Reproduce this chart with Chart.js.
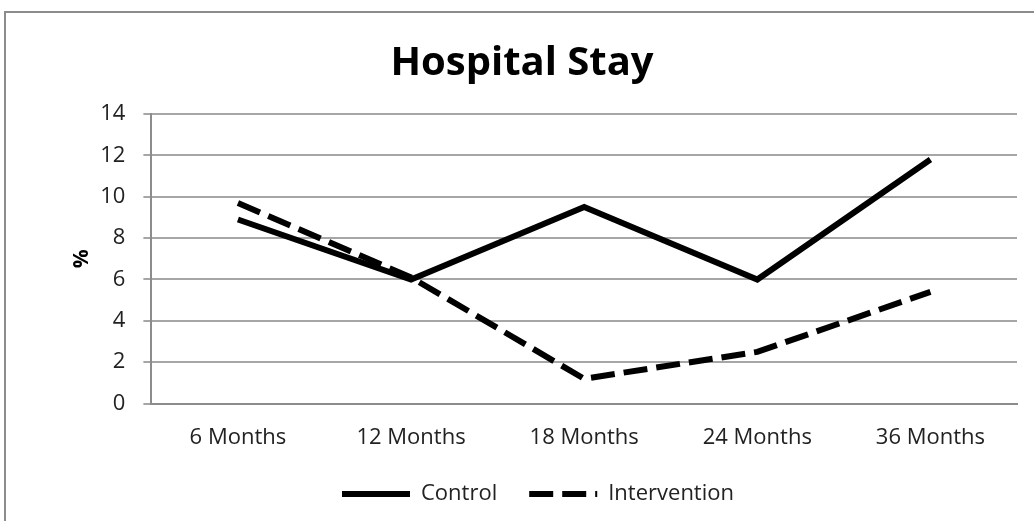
<!DOCTYPE html>
<html>
<head>
<meta charset="utf-8">
<script src="https://cdn.jsdelivr.net/npm/chart.js@4/dist/chart.umd.min.js"></script>
<style>
  html, body { margin: 0; padding: 0; background: #fff; overflow: hidden; }
  #frame { position: absolute; left: 4px; top: 11px; width: 1100px; height: 600px; border: 2px solid #8c8c8c; box-sizing: border-box; }
  #chart { position: absolute; left: 0; top: 0; }
</style>
</head>
<body>
<div id="frame"></div>
<canvas id="chart" width="1034" height="521"></canvas>
<script>
const titleText = "Hospital Stay";
const categories = ["6 Months", "12 Months", "18 Months", "24 Months", "36 Months"];
const controlValues = [8.9, 6.0, 9.5, 6.0, 11.8];
const interventionValues = [9.7, 6.1, 1.2, 2.5, 5.4];
const yTicks = [0, 2, 4, 6, 8, 10, 12, 14];

const font = "Open Sans, Lato, sans-serif";

// title drawn by hand so it can sit centred on the frame rather than the canvas
const titlePlugin = {
    id: "frameTitle",
    afterDraw(chart) {
        const ctx = chart.ctx;
        ctx.save();
        ctx.font = "bold 40px " + font;
        ctx.fillStyle = "#000";
        ctx.textAlign = "center";
        ctx.textBaseline = "middle";
        ctx.fillText(titleText, 522, 64);
        ctx.restore();
    }
};

new Chart(document.getElementById("chart"), {
    type: "line",
    data: {
        labels: categories,
        datasets: [
            { label: "Control", data: controlValues, borderColor: "#000", backgroundColor: "#000",
              borderWidth: 6, pointRadius: 0, tension: 0, borderJoinStyle: "miter" },
            { label: "Intervention", data: interventionValues, borderColor: "#000", backgroundColor: "#000",
              borderWidth: 6, borderDash: [24, 9], pointRadius: 0, tension: 0 }
        ]
    },
    plugins: [titlePlugin],
    options: {
        responsive: false,
        animation: false,
        devicePixelRatio: 1,
        layout: { padding: { left: 59, right: 17, top: 114, bottom: 6 } },
        plugins: {
            title: { display: false },
            legend: { position: "bottom",
                      labels: { usePointStyle: true, pointStyle: "line", pointStyleWidth: 68, boxHeight: 6,
                                color: "#222", font: { family: font, size: 22 }, padding: 32,
                                generateLabels: chart => Chart.defaults.plugins.legend.labels.generateLabels(chart)
                                    .map((item, i) => ({ ...item, lineWidth: 6, lineDash: chart.data.datasets[i].borderDash || [] })) } },
            tooltip: { enabled: false }
        },
        scales: {
            x: {
                offset: true,
                grid: { display: false, drawTicks: false },
                border: { color: "#8c8c8c", width: 2 },
                ticks: { color: "#222", font: { family: font, size: 22 }, padding: 21, maxRotation: 0 },
                afterFit: axis => { axis.height -= 21; }
            },
            y: {
                min: 0, max: 14,
                afterBuildTicks: axis => { axis.ticks = yTicks.map(v => ({ value: v })); },
                grid: { color: "#a6a6a6", lineWidth: 2, tickLength: 8 },
                border: { color: "#8c8c8c", width: 2 },
                ticks: { color: "#222", font: { family: font, size: 22 }, padding: 18 },
                title: { display: true, text: "%", color: "#000", font: { family: font, size: 21, weight: "bold" },
                         padding: { top: 10, bottom: 6 } },
                afterFit: axis => { axis.width -= 18; }
            }
        }
    }
});
</script>
</body>
</html>
